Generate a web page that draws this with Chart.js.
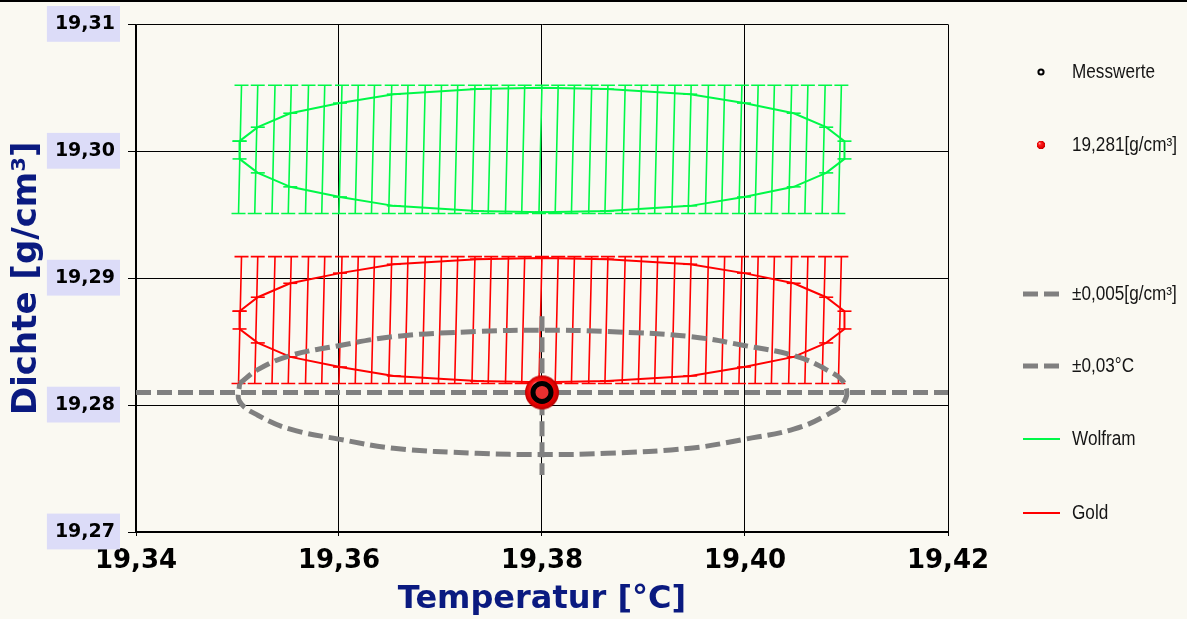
<!DOCTYPE html>
<html>
<head>
<meta charset="utf-8">
<script src="https://cdn.jsdelivr.net/npm/chart.js@4.4.1/dist/chart.umd.min.js"></script>
<style>
  html, body { margin: 0; padding: 0; background: #faf9f2; }
  canvas { display: block; }
</style>
</head>
<body>
<canvas id="dichteChart" width="1187" height="619"></canvas>
<script>
// Ellipsen-Eckpunkte: obere Haelfte links -> rechts, untere rechts -> links, dann geschlossen
const ellipseX = [19.3502, 19.3520, 19.3552, 19.3601, 19.3654, 19.3736, 19.3800, 19.3864, 19.3946, 19.3999, 19.4048, 19.4080, 19.4098,
                  19.4098, 19.4080, 19.4048, 19.3999, 19.3946, 19.3864, 19.3800, 19.3736, 19.3654, 19.3601, 19.3552, 19.3520, 19.3502, 19.3502];
const wolframY = [19.3008, 19.3019, 19.3030, 19.3038, 19.3045, 19.3049, 19.3050, 19.3049, 19.3045, 19.3038, 19.3030, 19.3019, 19.3008,
                  19.2994, 19.2983, 19.2972, 19.2964, 19.2957, 19.2953, 19.2952, 19.2953, 19.2957, 19.2964, 19.2972, 19.2983, 19.2994, 19.3008];
const goldY    = [19.2874, 19.2885, 19.2896, 19.2904, 19.2911, 19.2915, 19.2916, 19.2915, 19.2911, 19.2904, 19.2896, 19.2885, 19.2874,
                  19.2860, 19.2849, 19.2838, 19.2830, 19.2823, 19.2819, 19.2818, 19.2819, 19.2823, 19.2830, 19.2838, 19.2849, 19.2860, 19.2874];
const toleranzY = [19.2817, 19.2828, 19.2839, 19.2847, 19.2854, 19.2858, 19.2859, 19.2858, 19.2854, 19.2847, 19.2839, 19.2828, 19.2817,
                   19.2803, 19.2792, 19.2781, 19.2773, 19.2766, 19.2762, 19.2761, 19.2762, 19.2766, 19.2773, 19.2781, 19.2792, 19.2803, 19.2817];

// senkrechte Fehlerbalken (Temperatur-Positionen) und ihre Grenzen
const barX = [19.3501, 19.3517, 19.3534, 19.3550, 19.3567, 19.3583, 19.3600, 19.3616, 19.3632, 19.3649,
              19.3665, 19.3682, 19.3698, 19.3714, 19.3731, 19.3747, 19.3764, 19.3780, 19.3797, 19.3813,
              19.3829, 19.3846, 19.3862, 19.3879, 19.3895, 19.3911, 19.3928, 19.3944, 19.3961, 19.3977,
              19.3994, 19.4010, 19.4026, 19.4043, 19.4059, 19.4076, 19.4092];
const wolframBar = [19.2951, 19.3052];
const goldBar = [19.2817, 19.2917];

// Messwert und Kreuzlinien
const messT = [19.38];
const messD = [19.281];
const kreuzX = [19.34, 19.42, null, 19.38, 19.38];
const kreuzY = [19.281, 19.281, null, 19.2870, 19.2745];

const xTicks = [19.34, 19.36, 19.38, 19.40, 19.42];
const yTicks = [19.27, 19.28, 19.29, 19.30, 19.31];
const labels = ['Messwerte', '19,281[g/cm³]', '±0,005[g/cm³]', '±0,03°C', 'Wolfram', 'Gold'];

const GREEN = '#00f848';
const RED = '#ff0000';
const GRAY = '#808080';
const NAVY = '#0a1a80';

const pts = (xs, ys) => xs.map((v, i) => ({ x: v, y: ys[i] }));
const comma = (v, d) => Number(v).toFixed(d).replace('.', ',');

// rote Kugel als Punktstil
function makeSphere(r) {
    const c = document.createElement('canvas');
    c.width = c.height = r * 2 + 2;
    const g = c.getContext('2d');
    const m = r + 1;
    const grad = g.createRadialGradient(m - r * 0.4, m - r * 0.45, r * 0.05, m, m, r);
    grad.addColorStop(0, '#ffb0b0');
    grad.addColorStop(0.3, '#ff2020');
    grad.addColorStop(0.85, '#e00000');
    grad.addColorStop(1, '#b00000');
    g.fillStyle = grad;
    g.beginPath();
    g.arc(m, m, r, 0, Math.PI * 2);
    g.fill();
    return c;
}
const sphere = makeSphere(17);

const backgroundPlugin = {
    id: 'hintergrund',
    beforeDraw(chart) {
        const ctx = chart.ctx;
        ctx.save();
        ctx.fillStyle = '#faf9f2';
        ctx.fillRect(0, 0, chart.width, chart.height);
        ctx.fillStyle = '#000';
        ctx.fillRect(0, 0, chart.width, 2);
        ctx.restore();
    }
};

// Fehlerbalken + Kappen an den Ellipsenpunkten
const errorBarPlugin = {
    id: 'fehlerbalken',
    beforeDatasetsDraw(chart) {
        const { ctx, scales: { x, y } } = chart;
        const tilt = 3, cap = 7;
        ctx.save();
        ctx.lineWidth = 1.6;
        [[wolframBar, GREEN], [goldBar, RED]].forEach(([lim, col]) => {
            ctx.strokeStyle = col;
            const yLo = y.getPixelForValue(lim[0]);
            const yHi = y.getPixelForValue(lim[1]);
            barX.forEach(v => {
                const px = x.getPixelForValue(v);
                ctx.beginPath();
                ctx.moveTo(px, yLo);
                ctx.lineTo(px + tilt, yHi);
                ctx.moveTo(px - cap, yLo);
                ctx.lineTo(px + cap, yLo);
                ctx.moveTo(px + tilt - cap, yHi);
                ctx.lineTo(px + tilt + cap, yHi);
                ctx.stroke();
            });
        });
        [[wolframY, GREEN], [goldY, RED]].forEach(([ys, col]) => {
            ctx.strokeStyle = col;
            ellipseX.forEach((v, i) => {
                const px = x.getPixelForValue(v);
                const py = y.getPixelForValue(ys[i]);
                ctx.beginPath();
                ctx.moveTo(px - cap, py);
                ctx.lineTo(px + cap, py);
                ctx.stroke();
            });
        });
        ctx.restore();
    }
};

// Legende rechts mit freien Abstaenden
const legendPlugin = {
    id: 'seitenlegende',
    afterDraw(chart) {
        const ctx = chart.ctx;
        const rows = [72, 145, 294, 366, 439, 513];
        const mx = 1041, lx0 = 1023, lx1 = 1060, tx = 1072;
        ctx.save();
        chart.data.datasets.forEach((ds, i) => {
            const yy = rows[i];
            if (i === 0) {
                ctx.beginPath();
                ctx.arc(mx, yy, 2.6, 0, Math.PI * 2);
                ctx.fillStyle = '#fff';
                ctx.fill();
                ctx.lineWidth = 2;
                ctx.strokeStyle = '#000';
                ctx.stroke();
            } else if (i === 1) {
                ctx.drawImage(sphere, mx - 4.5, yy - 4.5, 9, 9);
            } else {
                ctx.strokeStyle = ds.borderColor;
                ctx.lineWidth = ds.borderDash ? 5 : 2;
                ctx.setLineDash(ds.borderDash ? [15, 6] : []);
                ctx.beginPath();
                ctx.moveTo(lx0, yy);
                ctx.lineTo(lx1, yy);
                ctx.stroke();
                ctx.setLineDash([]);
            }
            ctx.save();
            ctx.translate(tx, yy);
            ctx.scale(0.88, 1);
            ctx.fillStyle = '#151515';
            ctx.font = '19.5px "Liberation Sans", Arial, sans-serif';
            ctx.textBaseline = 'middle';
            ctx.fillText(ds.label, 0, 1);
            ctx.restore();
        });
        ctx.restore();
    }
};

const tickFont = { family: 'DejaVu Sans', weight: 'bold' };

new Chart(document.getElementById('dichteChart'), {
    type: 'scatter',
    data: {
        datasets: [
            {
                label: labels[0],
                data: pts(messT, messD),
                pointRadius: 9,
                pointBorderWidth: 5,
                pointBorderColor: '#000',
                pointBackgroundColor: '#e83030',
                showLine: false
            },
            {
                label: labels[1],
                data: pts(messT, messD),
                pointStyle: sphere,
                pointRadius: 17,
                showLine: false
            },
            {
                label: labels[2],
                data: pts(ellipseX, toleranzY),
                showLine: true,
                borderColor: GRAY,
                borderWidth: 5,
                borderDash: [15, 6],
                tension: 0.4,
                pointRadius: 0
            },
            {
                label: labels[3],
                data: pts(kreuzX, kreuzY),
                showLine: true,
                spanGaps: false,
                borderColor: GRAY,
                borderWidth: 5,
                borderDash: [15, 6],
                pointRadius: 0
            },
            {
                label: labels[4],
                data: pts(ellipseX, wolframY),
                showLine: true,
                borderColor: GREEN,
                borderWidth: 2,
                pointRadius: 0
            },
            {
                label: labels[5],
                data: pts(ellipseX, goldY),
                showLine: true,
                borderColor: RED,
                borderWidth: 2,
                pointRadius: 0
            }
        ]
    },
    options: {
        responsive: false,
        animation: false,
        layout: { padding: { top: 23, right: 239, bottom: 0, left: 0 } },
        plugins: {
            legend: { display: false },
            tooltip: { enabled: false }
        },
        scales: {
            x: {
                type: 'linear',
                min: 19.34,
                max: 19.42,
                afterBuildTicks: s => { s.ticks = xTicks.map(v => ({ value: v })); },
                afterFit: s => { s.height = 87; },
                ticks: {
                    callback: v => comma(v, 2),
                    font: { ...tickFont, size: 26 },
                    color: '#000',
                    padding: 10,
                    maxRotation: 0,
                    autoSkip: false
                },
                grid: { color: '#000', lineWidth: 1, tickLength: 4 },
                border: { color: '#000', width: 2 },
                title: {
                    display: true,
                    text: 'Temperatur [°C]',
                    color: NAVY,
                    font: { ...tickFont, size: 32 },
                    padding: { top: 0, bottom: 0 }
                }
            },
            y: {
                type: 'linear',
                min: 19.27,
                max: 19.31,
                afterBuildTicks: s => { s.ticks = yTicks.map(v => ({ value: v })); },
                afterFit: s => { s.width = 136; },
                ticks: {
                    callback: v => comma(v, 2),
                    font: { ...tickFont, size: 19 },
                    color: '#000',
                    padding: 13,
                    showLabelBackdrop: true,
                    backdropColor: '#dcdcf8',
                    backdropPadding: { left: 8, right: 5, top: 7, bottom: 6 }
                },
                grid: { color: '#000', lineWidth: 1, tickLength: 8 },
                border: { color: '#000', width: 1.5 },
                title: {
                    display: true,
                    text: 'Dichte [g/cm³]',
                    color: NAVY,
                    font: { ...tickFont, size: 34 },
                    padding: { top: 7, bottom: 0 }
                }
            }
        }
    },
    plugins: [backgroundPlugin, errorBarPlugin, legendPlugin]
});
</script>
</body>
</html>
